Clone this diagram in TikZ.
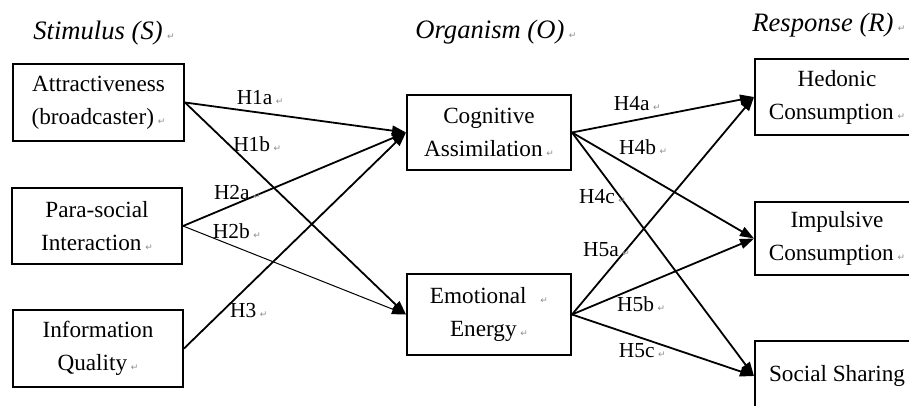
\documentclass[tikz,border=0pt]{standalone}
\usepackage{fontspec}
\setmainfont{Liberation Serif}
\newfontfamily\markfont{DejaVu Sans}
\usetikzlibrary{arrows.meta, positioning}
\newcommand{\pmark}{\,{\markfont\fontsize{4.5}{5}\selectfont\textcolor{black!45}{↵}}}

\begin{document}
\begin{tikzpicture}[x=0.5pt, y=-0.5pt, >={Triangle[length=7pt, width=5pt]},
        box/.style={draw, line width=1pt, align=center, inner sep=0pt, font=\fontsize{11.6}{16.5}\selectfont},
        hyp/.style={inner sep=0pt, font=\fontsize{10.7}{12}\selectfont},
        head/.style={anchor=base west, inner sep=0pt, font=\fontsize{13.3}{15}\selectfont\itshape},
        link/.style={->, line width=0.9pt}]
        \useasboundingbox (0,0) rectangle (909,406);
        \clip (0,0) rectangle (909,406);
        % column titles
        \node[head] (ts) at (33,39.5) {Stimulus (S)\pmark};
        \node[head] (to) at (415,38.5) {Organism (O)\pmark};
        \node[head] (tr) at (752,31.5) {Response (R)\pmark};
        % S, O and R boxes
        \node[box, minimum width=85.5pt, minimum height=38.5pt] (s0) at (98.5,102.5) {Attractiveness\\(broadcaster)\pmark};
        \node[box, minimum width=85pt, minimum height=38pt] (s1) at (97,226) {Para-social\\Interaction\pmark};
        \node[box, minimum width=85pt, minimum height=38.5pt] (s2) at (98,348.5) {Information\\Quality\pmark};
        \node[box, minimum width=82pt, minimum height=37.5pt] (o0) at (489,132.5) {Cognitive\\Assimilation\pmark};
        \node[box, minimum width=82pt, minimum height=40.5pt] (o1) at (489,314.5) {Emotional\hspace{5pt}\pmark\\Energy\pmark};
        \node[box, minimum width=82pt, minimum height=38pt] (r0) at (837,97) {Hedonic\\Consumption\pmark};
        \node[box, minimum width=82pt, minimum height=36.5pt] (r1) at (837,238.5) {Impulsive\\Consumption\pmark};
        \node[box, minimum width=82pt, minimum height=35pt] (r2) at (837,376) {Social Sharing};
        % hypotheses
        \draw[link] (s0.east) -- (o0.west) node[hyp, pos=0.34, above=3.3pt] {H1a\pmark};
        \draw[link] (s0.east) -- (o1.west) node[hyp, pos=0.327, above=9.4pt] {H1b\pmark};
        \draw[link] (s1.east) -- (o0.west) node[hyp, pos=0.244, above=1.5pt] {H2a\pmark};
        \draw[link, line width=0.5pt] (s1.east) -- (o1.west) node[hyp, pos=0.242, above=4.2pt] {H2b\pmark};
        \draw[link] (s2.east) -- (o0.west) node[hyp, pos=0.292, below=8.3pt] {H3\pmark};
        \draw[link] (o0.east) -- (r0.west) node[hyp, pos=0.359, above=3.9pt] {H4a\pmark};
        \draw[link] (o0.east) -- (r1.west) node[hyp, pos=0.391, above=9pt] {H4b\pmark};
        \draw[link] (o0.east) -- (r2.west) node[hyp, pos=0.168, below=7.7pt] {H4c\pmark};
        \draw[link] (o1.east) -- (r0.west) node[hyp, pos=0.19, above=8pt] {H5a\pmark};
        \draw[link] (o1.east) -- (r1.west) node[hyp, pos=0.38, below=5.2pt] {H5b\pmark};
        \draw[link] (o1.east) -- (r2.west) node[hyp, pos=0.386, below=2.4pt] {H5c\pmark};
    \end{tikzpicture}
\end{document}
